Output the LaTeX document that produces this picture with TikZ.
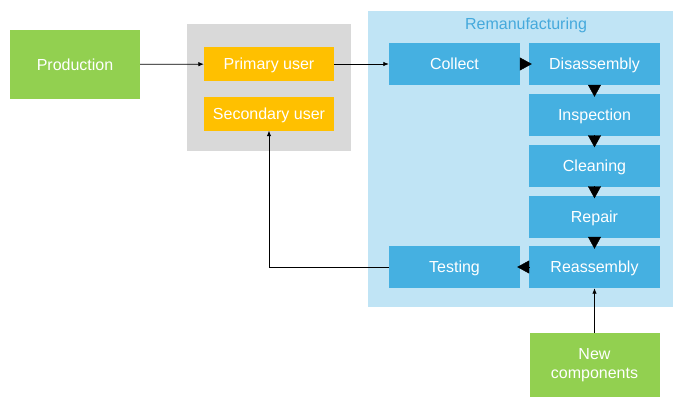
\documentclass[tikz,border=0pt]{standalone}
\usepackage{fontspec}
\setmainfont{Liberation Sans}
\usepackage{xcolor}
\usetikzlibrary{arrows.meta}

\definecolor{prodgreen}{HTML}{92D050}
\definecolor{useryellow}{HTML}{FFC000}
\definecolor{usergray}{HTML}{D9D9D9}
\definecolor{remanback}{HTML}{C0E4F5}
\definecolor{remanblue}{HTML}{45B0E1}
\definecolor{remantitle}{HTML}{45A9DC}

\tikzset{
  box/.style={inner sep=0pt,text=white,font=\fontsize{16}{19}\selectfont,align=center},
  oneline/.style={text height=11.5pt,text depth=0pt},
  greenbox/.style={box,fill=prodgreen,minimum width=130pt},
  userbox/.style={box,oneline,fill=useryellow,minimum width=130pt,minimum height=34pt},
  stepbox/.style={box,oneline,fill=remanblue,minimum width=131pt,minimum height=42pt},
  thin arrow/.style={-{Latex[length=5.5pt,width=4.5pt]},line width=0.8pt},
  big arrow/.style={-{Triangle[length=12pt,width=13pt]},shorten >=-3pt}
}

\begin{document}
\begin{tikzpicture}[x=1pt,y=-1pt]
\useasboundingbox (0,0) rectangle (673,397);
\fill[usergray] (187,24) rectangle (351,151);
\fill[remanback] (368,11) rectangle (673,307);
\node[oneline,text=remantitle,font=\fontsize{16}{19}\selectfont] (title) at (526,23.5) {Remanufacturing};

\node[greenbox,oneline,minimum height=69pt] (production) at (75,64.5) {Production};
\node[userbox] (primary) at (269,64) {Primary user};
\node[userbox] (secondary) at (269,113.5) {Secondary user};

\node[stepbox] (collect) at (454.5,64) {Collect};
\node[stepbox] (disassembly) at (594.5,64) {Disassembly};
\node[stepbox] (inspection) at (594.5,115) {Inspection};
\node[stepbox] (cleaning) at (594.5,165.5) {Cleaning};
\node[stepbox] (repair) at (594.5,216.5) {Repair};
\node[stepbox] (reassembly) at (594.5,267) {Reassembly};
\node[stepbox] (testing) at (454.5,267) {Testing};
\node[greenbox,minimum height=64pt] (newcomp) at (594.5,365) {New\\components};

\draw[thin arrow] (production) -- (primary);
\draw[thin arrow] (primary) -- (collect);
\draw[big arrow] (collect) -- (disassembly);
\draw[big arrow] (disassembly) -- (inspection);
\draw[big arrow] (inspection) -- (cleaning);
\draw[big arrow] (cleaning) -- (repair);
\draw[big arrow] (repair) -- (reassembly);
\draw[big arrow] (reassembly) -- (testing);
\draw[thin arrow] (newcomp) -- (reassembly);
\draw[thin arrow] (testing.west) -| (secondary.south);
\end{tikzpicture}
\end{document}
